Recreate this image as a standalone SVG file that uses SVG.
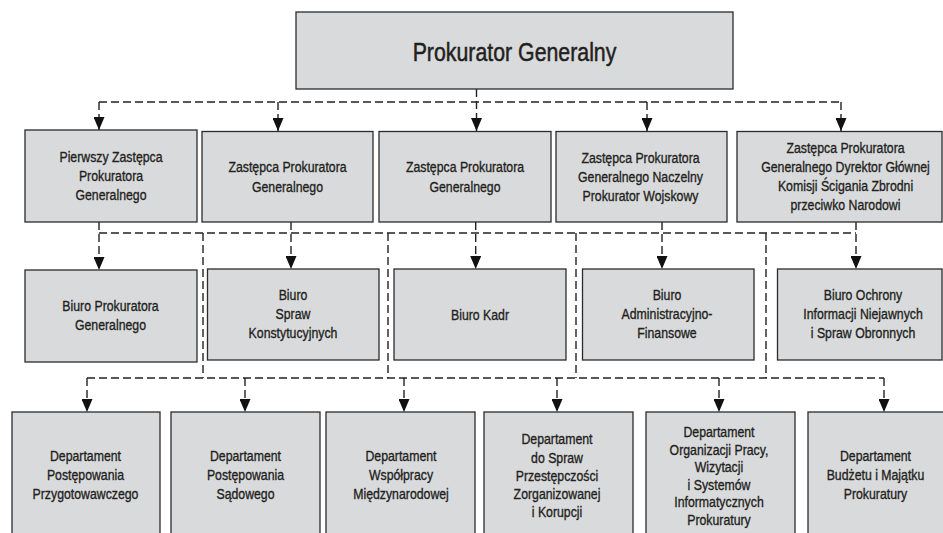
<svg xmlns="http://www.w3.org/2000/svg" width="943" height="533" viewBox="0 0 943 533">
<style>
.box{fill:#d9dadc;stroke:#2b2b2b;stroke-width:1.3}
.t{font-family:"Liberation Sans",Arial,sans-serif;font-size:15px;fill:#231f20;stroke:#231f20;stroke-width:0.35;text-anchor:middle}
.big{font-size:26px;stroke-width:0.5}
.c{fill:none;stroke:#222;stroke-width:1.4;stroke-dasharray:8 4}
.a{marker-end:url(#ah)}
</style>
<defs>
<marker id="ah" markerUnits="userSpaceOnUse" markerWidth="13" markerHeight="11" viewBox="0 0 13 11" refX="13" refY="5.5" orient="auto">
<path d="M0,0 L13,5.5 L0,11 z" fill="#111"/>
</marker>
</defs>
<rect width="943" height="533" fill="#fff"/>
<g id="connectors">
<path class="c" d="M99,102 H841"/>
<path class="c a" d="M99,102 V130"/>
<path class="c a" d="M278,102 V131"/>
<path class="c a" d="M476.5,89 V131"/>
<path class="c a" d="M647,102 V131"/>
<path class="c a" d="M841,102 V131"/>
<path class="c" d="M99,233 H856"/>
<path class="c a" d="M99,222 V270"/>
<path class="c a" d="M291,222 V269"/>
<path class="c a" d="M475.7,222 V269"/>
<path class="c a" d="M662,222 V269"/>
<path class="c a" d="M856,222 V269"/>
<path class="c" d="M203,233 V378"/>
<path class="c" d="M388,233 V378"/>
<path class="c" d="M576,233 V378"/>
<path class="c" d="M766,233 V378"/>
<path class="c" d="M87,378 H884"/>
<path class="c a" d="M87,378 V412"/>
<path class="c a" d="M245,378 V412"/>
<path class="c a" d="M404,378 V412"/>
<path class="c a" d="M557,378 V412"/>
<path class="c a" d="M719,378 V412"/>
<path class="c a" d="M884,378 V412"/>
</g>
<g id="pg">
<rect class="box" x="296" y="12" width="437" height="77"/>
<text class="t big" transform="translate(514.5,61) scale(.82 1)">Prokurator Generalny</text>
</g>
<g id="z1">
<rect class="box" x="25" y="130" width="172" height="92"/>
<text class="t" transform="translate(111,162) scale(.82 1)">Pierwszy Zastępca</text>
<text class="t" transform="translate(111,181) scale(.82 1)">Prokuratora</text>
<text class="t" transform="translate(111,200) scale(.82 1)">Generalnego</text>
</g>
<g id="z2">
<rect class="box" x="202" y="131.5" width="171" height="90.5"/>
<text class="t" transform="translate(287.5,172) scale(.82 1)">Zastępca Prokuratora</text>
<text class="t" transform="translate(287.5,192) scale(.82 1)">Generalnego</text>
</g>
<g id="z3">
<rect class="box" x="379" y="131.5" width="172" height="90.5"/>
<text class="t" transform="translate(465,172) scale(.82 1)">Zastępca Prokuratora</text>
<text class="t" transform="translate(465,192) scale(.82 1)">Generalnego</text>
</g>
<g id="z4">
<rect class="box" x="556" y="131.5" width="171" height="90.5"/>
<text class="t" transform="translate(640.5,163) scale(.82 1)">Zastępca Prokuratora</text>
<text class="t" transform="translate(640.5,182) scale(.82 1)">Generalnego Naczelny</text>
<text class="t" transform="translate(640.5,201) scale(.82 1)">Prokurator Wojskowy</text>
</g>
<g id="z5">
<rect class="box" x="737" y="131.5" width="205" height="90.5"/>
<text class="t" transform="translate(845.5,153) scale(.82 1)">Zastępca Prokuratora</text>
<text class="t" transform="translate(845.5,172) scale(.82 1)">Generalnego Dyrektor Głównej</text>
<text class="t" transform="translate(845.5,191) scale(.82 1)">Komisji Ścigania Zbrodni</text>
<text class="t" transform="translate(845.5,210) scale(.82 1)">przeciwko Narodowi</text>
</g>
<g id="b1">
<rect class="box" x="25" y="270" width="172" height="92"/>
<text class="t" transform="translate(110.5,311) scale(.82 1)">Biuro Prokuratora</text>
<text class="t" transform="translate(110.5,330) scale(.82 1)">Generalnego</text>
</g>
<g id="b2">
<rect class="box" x="207.5" y="269" width="171.5" height="91"/>
<text class="t" transform="translate(293,300) scale(.82 1)">Biuro</text>
<text class="t" transform="translate(293,319) scale(.82 1)">Spraw</text>
<text class="t" transform="translate(293,338) scale(.82 1)">Konstytucyjnych</text>
</g>
<g id="b3">
<rect class="box" x="394" y="269" width="172" height="91"/>
<text class="t" transform="translate(480,320) scale(.82 1)">Biuro Kadr</text>
</g>
<g id="b4">
<rect class="box" x="582.5" y="269" width="171.5" height="91"/>
<text class="t" transform="translate(667,300) scale(.82 1)">Biuro</text>
<text class="t" transform="translate(667,319) scale(.82 1)">Administracyjno-</text>
<text class="t" transform="translate(667,338) scale(.82 1)">Finansowe</text>
</g>
<g id="b5">
<rect class="box" x="777.5" y="269" width="164.5" height="91"/>
<text class="t" transform="translate(863,300) scale(.82 1)">Biuro Ochrony</text>
<text class="t" transform="translate(863,319) scale(.82 1)">Informacji Niejawnych</text>
<text class="t" transform="translate(863,338) scale(.82 1)">i Spraw Obronnych</text>
</g>
<g id="d1">
<rect class="box" x="12" y="412" width="148" height="130"/>
<text class="t" transform="translate(85.5,461) scale(.82 1)">Departament</text>
<text class="t" transform="translate(85.5,480) scale(.82 1)">Postępowania</text>
<text class="t" transform="translate(85.5,499) scale(.82 1)">Przygotowawczego</text>
</g>
<g id="d2">
<rect class="box" x="171" y="412" width="149" height="130"/>
<text class="t" transform="translate(245.5,461) scale(.82 1)">Departament</text>
<text class="t" transform="translate(245.5,480) scale(.82 1)">Postępowania</text>
<text class="t" transform="translate(245.5,499) scale(.82 1)">Sądowego</text>
</g>
<g id="d3">
<rect class="box" x="326" y="412" width="149" height="130"/>
<text class="t" transform="translate(401,461) scale(.82 1)">Departament</text>
<text class="t" transform="translate(401,480) scale(.82 1)">Współpracy</text>
<text class="t" transform="translate(401,499) scale(.82 1)">Międzynarodowej</text>
</g>
<g id="d4">
<rect class="box" x="484" y="412" width="149" height="130"/>
<text class="t" transform="translate(557,444) scale(.82 1)">Departament</text>
<text class="t" transform="translate(557,462.5) scale(.82 1)">do Spraw</text>
<text class="t" transform="translate(557,481) scale(.82 1)">Przestępczości</text>
<text class="t" transform="translate(557,499) scale(.82 1)">Zorganizowanej</text>
<text class="t" transform="translate(557,517) scale(.82 1)">i Korupcji</text>
</g>
<g id="d5">
<rect class="box" x="646" y="412" width="149" height="130"/>
<text class="t" transform="translate(719,437) scale(.82 1)">Departament</text>
<text class="t" transform="translate(719,454.5) scale(.82 1)">Organizacji Pracy,</text>
<text class="t" transform="translate(719,472) scale(.82 1)">Wizytacji</text>
<text class="t" transform="translate(719,489.5) scale(.82 1)">i Systemów</text>
<text class="t" transform="translate(719,507) scale(.82 1)">Informatycznych</text>
<text class="t" transform="translate(719,524.5) scale(.82 1)">Prokuratury</text>
</g>
<g id="d6">
<rect class="box" x="808" y="412" width="149" height="130"/>
<text class="t" transform="translate(875.5,461) scale(.82 1)">Departament</text>
<text class="t" transform="translate(875.5,480) scale(.82 1)">Budżetu i Majątku</text>
<text class="t" transform="translate(875.5,499) scale(.82 1)">Prokuratury</text>
</g>
</svg>
